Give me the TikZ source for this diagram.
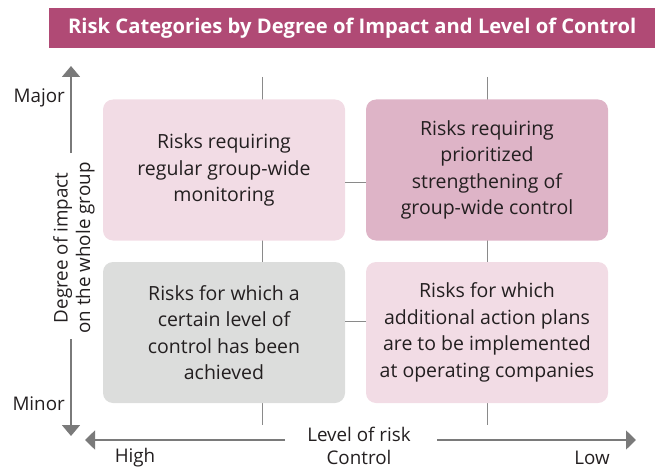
\documentclass[tikz,border=0pt]{standalone}
\usepackage{fontspec}
\setmainfont{Open Sans}
\usepackage{xcolor}
\usetikzlibrary{arrows.meta, positioning}
\definecolor{titlebar}{HTML}{B04A75}
\definecolor{palepink}{HTML}{F2DCE5}
\definecolor{deeppink}{HTML}{DEB4C7}
\definecolor{palegray}{HTML}{DCDDDC}
\definecolor{gridgray}{HTML}{8A8A8A}
\definecolor{axisgray}{HTML}{7A7A7A}
\definecolor{ink}{HTML}{231F20}

\begin{document}
\begin{tikzpicture}[
    x=1pt, y=-1pt,
    quad/.style={rounded corners=10pt, align=center, minimum width=242pt, minimum height=141pt, inner sep=0pt, text=ink, font=\fontsize{19.5}{26.5}\selectfont},
    axislabel/.style={align=center, text=ink, inner sep=0pt, font=\fontsize{18.8}{22.5}\selectfont},
    gridline/.style={draw=gridgray, line width=1pt},
    axis/.style={draw=axisgray, line width=1.6pt, -{Triangle[length=11pt, width=18pt]}}
]
\useasboundingbox (0,0) rectangle (655,468);

% title bar
\node[fill=titlebar, minimum width=606pt, minimum height=40pt, inner sep=0pt, anchor=north west,
      text=white, font=\bfseries\fontsize{20.2}{22}\selectfont] (title) at (49,8)
      {Risk Categories by Degree of Impact and Level of Control};

% grid behind the boxes
\coordinate (g1top) at (262,77);
\coordinate (g1bot) at (262,425);
\coordinate (g2top) at (487,77);
\coordinate (g2bot) at (487,425);
\draw[gridline] (g1top) -- (g1bot);
\draw[gridline] (g2top) -- (g2bot);

% quadrants
\node[quad, fill=palepink] (tl) at (224,170) {Risks requiring\\regular group-wide\\monitoring};
\node[quad, fill=deeppink] (tr) at (487,170) {Risks requiring\\prioritized\\strengthening of\\group-wide control};
\node[quad, fill=palegray] (bl) at (224,332.5) {Risks for which a\\certain level of\\control has been\\achieved};
\node[quad, fill=palepink] (br) at (487,332.5) {Risks for which\\additional action plans\\are to be implemented\\at operating companies};

\coordinate (h1) at (355,182);
\coordinate (h2) at (355,321);
\draw[gridline] (tl.east |- h1) -- (tr.west |- h1);
\draw[gridline] (bl.east |- h2) -- (br.west |- h2);

% vertical axis
\node[axislabel, rotate=90] (impact) at (74,248) {Degree of impact\\on the whole group};
\node[axislabel, anchor=east] (major) at (65,98) {Major};
\node[axislabel, anchor=east] (minor) at (65,404) {Minor};
\coordinate (vtop) at (71,66);
\coordinate (vgap1) at (71,153);
\coordinate (vgap2) at (71,339);
\coordinate (vbot) at (71,436);
\draw[axis] (vgap1) -- (vtop);
\draw[axis] (vgap2) -- (vbot);

% horizontal axis
\node[axislabel] (control) at (359,446) {Level of risk\\Control};
\node[axislabel] (high) at (135,458) {High};
\node[axislabel] (low) at (592,458) {Low};
\coordinate (hleft) at (85,440);
\coordinate (hgap1) at (285,440);
\coordinate (hgap2) at (437,440);
\coordinate (hright) at (636,440);
\draw[axis, -{Triangle[length=10pt, width=19pt]}] (hgap1) -- (hleft);
\draw[axis, -{Triangle[length=10pt, width=19pt]}] (hgap2) -- (hright);
\end{tikzpicture}
\end{document}
